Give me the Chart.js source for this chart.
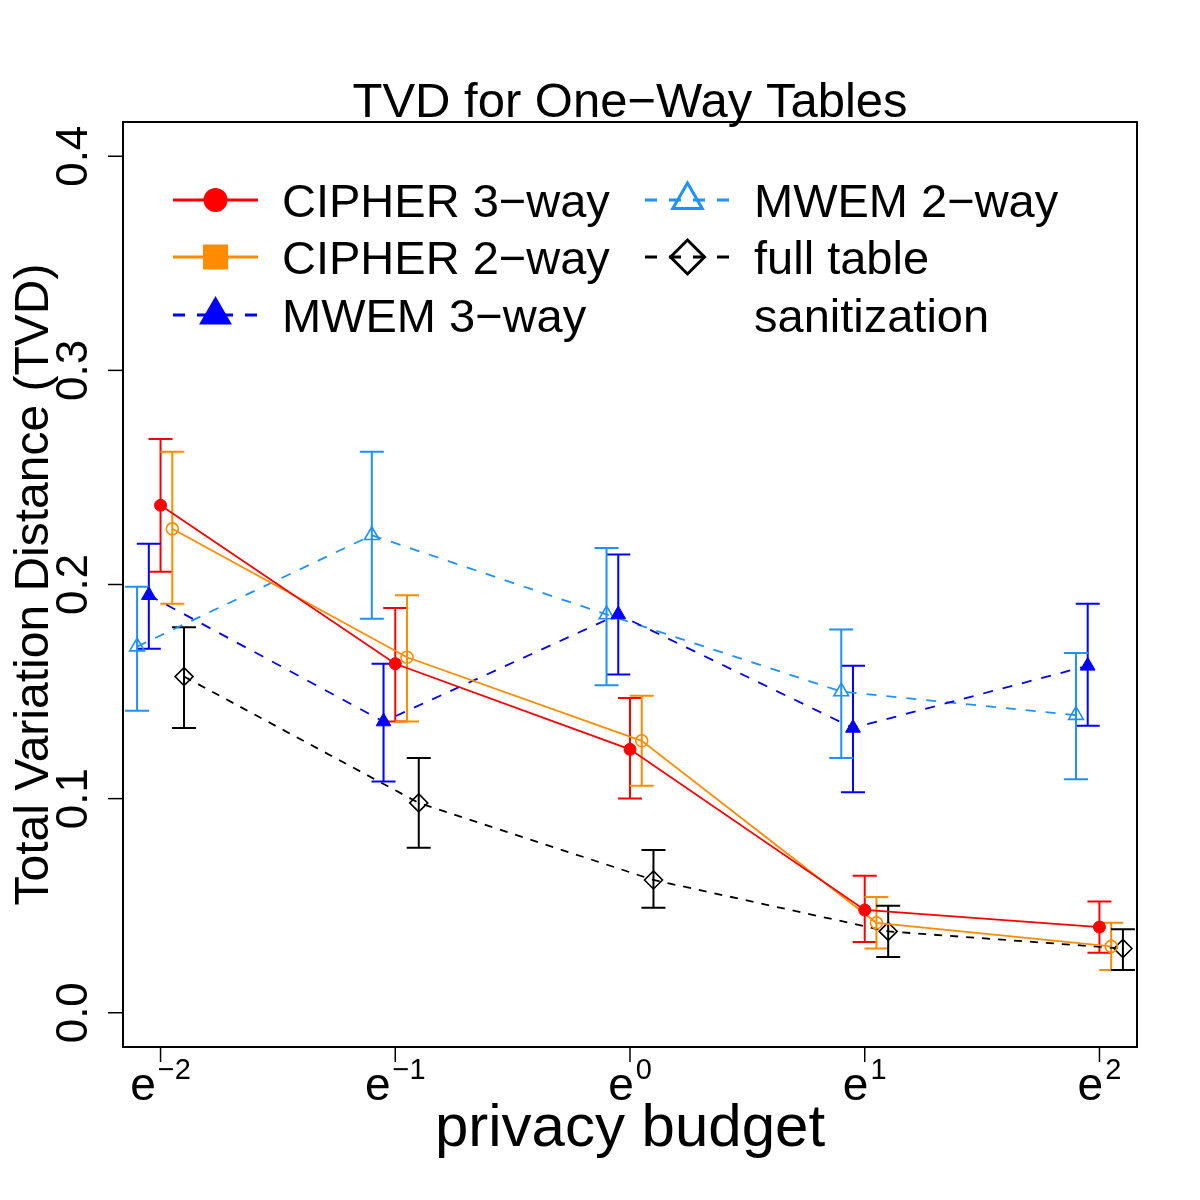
<!DOCTYPE html>
<html>
<head>
<meta charset="utf-8">
<title>TVD for One-Way Tables</title>
<script src="https://cdn.jsdelivr.net/npm/chart.js@4.4.0/dist/chart.umd.min.js"></script>
<style>
  html, body { margin: 0; padding: 0; background: #ffffff; }
  #wrap { width: 1200px; height: 1200px; }
</style>
</head>
<body>
<div id="wrap"><canvas id="tvd" width="1200" height="1200"></canvas></div>
<script>
(function () {
    "use strict";

    // Data
    var logBudget = [-2, -1, 0, 1, 2];
    var tickExponents = ["\u22122", "\u22121", "0", "1", "2"];
    var yTicks = [0.0, 0.1, 0.2, 0.3, 0.4];
    var yTickLabels = ["0.0", "0.1", "0.2", "0.3", "0.4"];

    var seriesNames = ["CIPHER 3\u2212way", "CIPHER 2\u2212way", "MWEM 3\u2212way", "MWEM 2\u2212way", "full table"];
    var xShift = [0, 0.05, -0.05, -0.1, 0.1];

    var cipher3   = [0.237, 0.163, 0.123, 0.048, 0.040];
    var cipher3Lo = [0.206, 0.136, 0.100, 0.033, 0.028];
    var cipher3Hi = [0.268, 0.189, 0.147, 0.064, 0.052];

    var cipher2   = [0.226, 0.166, 0.127, 0.042, 0.031];
    var cipher2Lo = [0.191, 0.136, 0.106, 0.030, 0.020];
    var cipher2Hi = [0.262, 0.195, 0.148, 0.054, 0.042];

    var mwem3   = [0.195, 0.136, 0.186, 0.133, 0.162];
    var mwem3Lo = [0.170, 0.108, 0.158, 0.103, 0.134];
    var mwem3Hi = [0.219, 0.163, 0.214, 0.162, 0.191];

    var mwem2   = [0.171, 0.223, 0.186, 0.150, 0.139];
    var mwem2Lo = [0.141, 0.184, 0.153, 0.119, 0.109];
    var mwem2Hi = [0.199, 0.262, 0.217, 0.179, 0.168];

    var fullTable   = [0.157, 0.098, 0.062, 0.038, 0.030];
    var fullTableLo = [0.133, 0.077, 0.049, 0.026, 0.020];
    var fullTableHi = [0.180, 0.119, 0.076, 0.050, 0.039];

    var values = [cipher3, cipher2, mwem3, mwem2, fullTable];
    var lows = [cipher3Lo, cipher2Lo, mwem3Lo, mwem2Lo, fullTableLo];
    var highs = [cipher3Hi, cipher2Hi, mwem3Hi, mwem2Hi, fullTableHi];

    // Styles
    var colors = ["#FF0000", "#FF8C00", "#0000FF", "#1E90FF", "#000000"];
    var dashes = [[], [], [10, 10], [10, 10], [8, 8]];
    var pointStyles = ["circle", "circle", "triangle", "triangle", "rectRot"];
    var pointRadius = [6, 6, 8.5, 8.5, 9];
    var filled = [true, false, true, false, false];

    var FONT = "'Liberation Sans', Arial, Helvetica, sans-serif";
    var CLEAR = "rgba(0,0,0,0)";

    function points(s) {
        return logBudget.map(function (lb, i) {
            return { x: lb + xShift[s], y: values[s][i] };
        });
    }

    var datasets = values.map(function (v, s) {
        return {
            label: seriesNames[s],
            data: points(s),
            borderColor: colors[s],
            backgroundColor: filled[s] ? colors[s] : CLEAR,
            borderWidth: 1.8,
            borderDash: dashes[s],
            pointStyle: pointStyles[s],
            pointRadius: pointRadius[s],
            pointBorderWidth: filled[s] ? 1 : 1.6,
            pointBackgroundColor: filled[s] ? colors[s] : CLEAR,
            pointBorderColor: colors[s],
            tension: 0,
            fill: false
        };
    });

    // Error bars, drawn under the lines
    var errorBars = {
        id: "errorBars",
        beforeDatasetsDraw: function (chart) {
            var ctx = chart.ctx, xs = chart.scales.x, ys = chart.scales.y;
            for (var s = 0; s < values.length; s++) {
                ctx.save();
                ctx.strokeStyle = colors[s];
                ctx.lineWidth = 2;
                for (var i = 0; i < logBudget.length; i++) {
                    var px = xs.getPixelForValue(logBudget[i] + xShift[s]);
                    var top = ys.getPixelForValue(highs[s][i]);
                    var bot = ys.getPixelForValue(lows[s][i]);
                    ctx.beginPath();
                    ctx.moveTo(px, top); ctx.lineTo(px, bot);
                    ctx.moveTo(px - 12, top); ctx.lineTo(px + 12, top);
                    ctx.moveTo(px - 12, bot); ctx.lineTo(px + 12, bot);
                    ctx.stroke();
                }
                ctx.restore();
            }
        }
    };

    function legendEntry(ctx, s, x0, x1, y, textX, text, sym) {
        ctx.save();
        ctx.strokeStyle = colors[s];
        ctx.lineWidth = 3;
        ctx.setLineDash(dashes[s].length ? [12, 12] : []);
        ctx.beginPath();
        ctx.moveTo(x0, y); ctx.lineTo(x1, y);
        ctx.stroke();
        ctx.setLineDash([]);
        ctx.fillStyle = filled[s] || sym.style === "rect" ? colors[s] : CLEAR;
        ctx.lineWidth = 3;
        Chart.helpers.drawPoint(ctx, {
            pointStyle: sym.style, radius: sym.r, rotation: 0, borderWidth: 3
        }, (x0 + x1) / 2, y);
        ctx.restore();
        ctx.fillStyle = "#000";
        ctx.font = "47px " + FONT;
        ctx.textAlign = "left";
        ctx.textBaseline = "alphabetic";
        ctx.fillText(text, textX, y + 17);
    }

    // Frame, axes, titles and legend in the R look
    var frame = {
        id: "frame",
        afterDraw: function (chart) {
            var ctx = chart.ctx, a = chart.chartArea;
            var xs = chart.scales.x, ys = chart.scales.y;
            ctx.save();
            ctx.strokeStyle = "#000";
            ctx.lineWidth = 2;
            ctx.strokeRect(a.left, a.top, a.right - a.left, a.bottom - a.top);

            // y axis
            ctx.lineWidth = 1.5;
            yTicks.forEach(function (v, i) {
                var py = ys.getPixelForValue(v);
                ctx.beginPath();
                ctx.moveTo(a.left - 15, py); ctx.lineTo(a.left, py);
                ctx.stroke();
                ctx.save();
                ctx.translate(87, py);
                ctx.rotate(-Math.PI / 2);
                ctx.fillStyle = "#000";
                ctx.font = "44px " + FONT;
                ctx.textAlign = "center";
                ctx.textBaseline = "alphabetic";
                ctx.fillText(yTickLabels[i], 0, 0);
                ctx.restore();
            });

            // x axis
            logBudget.forEach(function (lb, i) {
                var px = xs.getPixelForValue(lb);
                ctx.beginPath();
                ctx.moveTo(px, a.bottom); ctx.lineTo(px, a.bottom + 15);
                ctx.stroke();
                ctx.fillStyle = "#000";
                ctx.font = "46px " + FONT;
                var wBase = ctx.measureText("e").width;
                ctx.font = "29px " + FONT;
                var wSup = ctx.measureText(tickExponents[i]).width;
                var start = px - (wBase + 2 + wSup) / 2;
                ctx.textAlign = "left";
                ctx.textBaseline = "alphabetic";
                ctx.font = "46px " + FONT;
                ctx.fillText("e", start, 1100);
                ctx.font = "29px " + FONT;
                ctx.fillText(tickExponents[i], start + wBase + 2, 1079);
            });

            // titles
            ctx.fillStyle = "#000";
            ctx.textAlign = "center";
            ctx.textBaseline = "alphabetic";
            ctx.font = "49px " + FONT;
            ctx.fillText("TVD for One\u2212Way Tables", (a.left + a.right) / 2, 117);
            ctx.font = "60px " + FONT;
            ctx.fillText("privacy budget", (a.left + a.right) / 2, 1146);
            ctx.save();
            ctx.translate(48, (a.top + a.bottom) / 2);
            ctx.rotate(-Math.PI / 2);
            ctx.font = "48px " + FONT;
            ctx.fillText("Total Variation Distance (TVD)", 0, 0);
            ctx.restore();

            // legend
            legendEntry(ctx, 0, 173, 258, 200, 282, seriesNames[0], { style: "circle", r: 10.5 });
            legendEntry(ctx, 1, 173, 258, 257, 282, seriesNames[1], { style: "rect", r: 15.6 });
            legendEntry(ctx, 2, 173, 258, 315, 282, seriesNames[2], { style: "triangle", r: 16 });
            legendEntry(ctx, 3, 645, 730, 200, 754, seriesNames[3], { style: "triangle", r: 17 });
            legendEntry(ctx, 4, 645, 730, 257, 754, seriesNames[4], { style: "rectRot", r: 17 });
            ctx.font = "47px " + FONT;
            ctx.textAlign = "left";
            ctx.fillText("sanitization", 754, 332);
            ctx.restore();
        }
    };

    var ctx = document.getElementById("tvd").getContext("2d");
    new Chart(ctx, {
        type: "line",
        data: { datasets: datasets },
        options: {
            responsive: false,
            animation: false,
            events: [],
            layout: { padding: { left: 123, right: 63, top: 122, bottom: 153 } },
            plugins: {
                legend: { display: false },
                tooltip: { enabled: false },
                title: { display: false }
            },
            scales: {
                x: { type: "linear", min: -2.16, max: 2.16, display: false },
                y: { type: "linear", min: -0.016, max: 0.416, display: false }
            }
        },
        plugins: [errorBars, frame]
    });
})();
</script>
</body>
</html>
